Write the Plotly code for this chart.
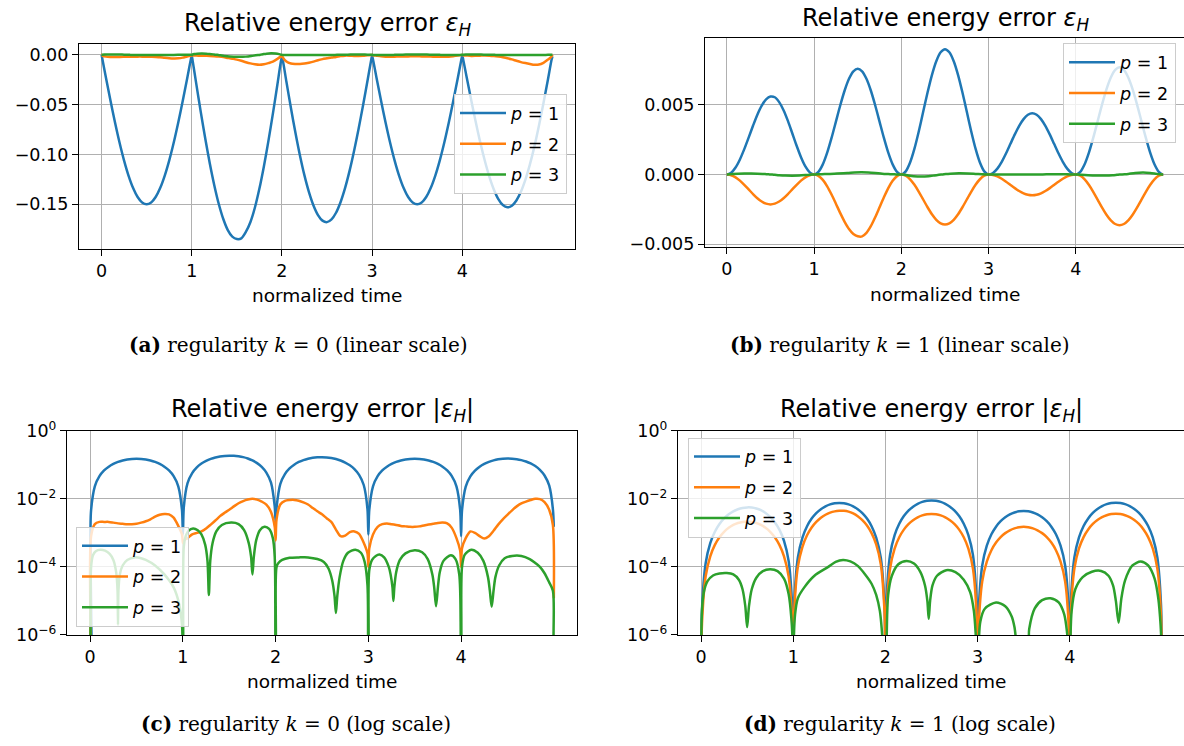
import plotly.graph_objects as go

# ---------------- data ----------------
# regularity k = 0 : time grid shared by p=1 and p=2
time_k0 = [0, 0.003, 0.01, 0.05, 0.1, 0.15, 0.2, 0.25, 0.3, 0.35, 0.4, 0.45, 0.5, 0.55, 0.6, 0.65, 0.7, 0.75, 0.8, 0.85, 0.9, 0.95, 0.99,
           1.0, 1.01, 1.05, 1.1, 1.15, 1.2, 1.25, 1.3, 1.35, 1.4, 1.45, 1.5, 1.55, 1.6, 1.65, 1.7, 1.75, 1.8, 1.85, 1.9, 1.95, 1.99,
           2.0, 2.01, 2.05, 2.1, 2.15, 2.2, 2.25, 2.3, 2.35, 2.4, 2.45, 2.5, 2.55, 2.6, 2.65, 2.7, 2.75, 2.8, 2.85, 2.9, 2.95, 2.99,
           3.0, 3.01, 3.05, 3.1, 3.15, 3.2, 3.25, 3.3, 3.35, 3.4, 3.45, 3.5, 3.55, 3.6, 3.65, 3.7, 3.75, 3.8, 3.85, 3.9, 3.95, 3.99,
           4.0, 4.01, 4.05, 4.1, 4.15, 4.2, 4.25, 4.3, 4.35, 4.4, 4.45, 4.5, 4.55, 4.6, 4.65, 4.7, 4.75, 4.8, 4.85, 4.9, 4.95, 4.99,
           5.0]

err_k0_p1 = [0, -0.0012, -0.0047, -0.0234, -0.0464, -0.0681, -0.0882, -0.1061, -0.1214, -0.1337, -0.1427, -0.1482, -0.1500, -0.1482, -0.1427, -0.1337, -0.1214, -0.1061, -0.0882, -0.0681, -0.0464, -0.0234, -0.0047,
             -0.0009, -0.0058, -0.0289, -0.0572, -0.0840, -0.1088, -0.1308, -0.1497, -0.1648, -0.1759, -0.1825, -0.1849, -0.1842, -0.1778, -0.1680, -0.1535, -0.1345, -0.1120, -0.0866, -0.0590, -0.0298, -0.0060,
             -0.0021, -0.0055, -0.0270, -0.0534, -0.0782, -0.1010, -0.1210, -0.1378, -0.1512, -0.1608, -0.1664, -0.1679, -0.1652, -0.1585, -0.1479, -0.1338, -0.1165, -0.0965, -0.0744, -0.0505, -0.0255, -0.0051,
             -0.0009, -0.0047, -0.0234, -0.0464, -0.0681, -0.0882, -0.1061, -0.1214, -0.1337, -0.1427, -0.1482, -0.1500, -0.1482, -0.1427, -0.1337, -0.1214, -0.1061, -0.0882, -0.0681, -0.0464, -0.0234, -0.0047,
             -0.0008, -0.0046, -0.0230, -0.0458, -0.0676, -0.0880, -0.1063, -0.1222, -0.1351, -0.1448, -0.1508, -0.1530, -0.1515, -0.1462, -0.1375, -0.1253, -0.1100, -0.0919, -0.0712, -0.0486, -0.0247, -0.0050,
             -0.0015]

err_k0_p2 = [0, -5e-7, -0.0008, -0.0018, -0.0021, -0.0021, -0.0021, -0.0020, -0.0019, -0.00185, -0.0018, -0.0018, -0.00185, -0.0020, -0.0022, -0.0025, -0.0030, -0.0034, -0.0036, -0.0035, -0.0028, -0.0016, -0.0009,
             -0.0005, -0.0006, -0.0007, -0.0009, -0.0010, -0.0011, -0.00135, -0.00175, -0.0023, -0.0031, -0.0039, -0.0048, -0.0060, -0.0074, -0.0086, -0.0095, -0.0100, -0.0095, -0.0083, -0.0068, -0.0041, -0.0015,
             -0.0006, -0.0025, -0.0068, -0.0087, -0.0092, -0.0093, -0.0088, -0.0079, -0.0068, -0.0054, -0.0043, -0.0035, -0.0027, -0.0021, -0.00125, -0.0008, -0.00083, -0.00105, -0.0011, -0.00093, -0.00051, -0.00025,
             -0.0001, -0.00035, -0.0009, -0.0015, -0.0018, -0.0019, -0.0018, -0.0017, -0.0016, -0.00155, -0.0015, -0.0015, -0.00155, -0.00165, -0.00175, -0.00185, -0.00195, -0.0020, -0.0019, -0.0014, -0.0007, -0.0003,
             -0.0001, -0.00035, -0.0007, -0.0011, -0.0010, -0.0008, -0.00068, -0.0008, -0.00115, -0.00175, -0.0025, -0.0034, -0.0046, -0.0060, -0.0073, -0.0083, -0.0092, -0.0100, -0.0098, -0.0080, -0.0048, -0.0017,
             -1.2e-5]

time_k0_p3 = [0, 0.003, 0.01, 0.03, 0.06, 0.11, 0.16, 0.21, 0.25, 0.28, 0.295, 0.3, 0.305, 0.32, 0.35, 0.4, 0.48, 0.55, 0.6, 0.7, 0.8, 0.9, 0.96, 0.99, 0.997,
              1.0, 1.003, 1.01, 1.03, 1.06, 1.11, 1.16, 1.2, 1.24, 1.265, 1.28, 1.295, 1.32, 1.36, 1.42, 1.52, 1.6, 1.66, 1.71, 1.735, 1.75, 1.765, 1.79, 1.83, 1.88, 1.93, 1.97, 1.99, 1.997,
              2.0, 2.003, 2.01, 2.03, 2.07, 2.15, 2.25, 2.35, 2.45, 2.52, 2.57, 2.61, 2.635, 2.65, 2.665, 2.69, 2.73, 2.78, 2.86, 2.92, 2.96, 2.99, 2.997,
              3.0, 3.003, 3.01, 3.04, 3.08, 3.12, 3.17, 3.22, 3.24, 3.26, 3.27, 3.28, 3.3, 3.34, 3.4, 3.5, 3.58, 3.64, 3.69, 3.71, 3.73, 3.75, 3.77, 3.81, 3.89, 3.94, 3.98, 3.997,
              4.0, 4.003, 4.01, 4.04, 4.11, 4.18, 4.24, 4.29, 4.31, 4.33, 4.35, 4.37, 4.41, 4.47, 4.55, 4.65, 4.74, 4.8, 4.85, 4.9, 4.95, 4.99, 4.997, 5.0]

err_k0_p3 = [0, 5e-7, 1e-4, 2.2e-4, 2.9e-4, 3.2e-4, 3.0e-4, 2.4e-4, 1.6e-4, 7e-5, 2e-5, 2e-6, -2e-5, -6e-5, -1.1e-4, -1.6e-4, -1.9e-4, -1.8e-4, -1.6e-4, -1.1e-4, -6e-5, -2.5e-5, -8e-6, -2e-6, -5e-7,
             0, 5e-7, 4e-4, 8e-4, 1.15e-3, 1.35e-3, 1.2e-3, 9e-4, 4.5e-4, 1.5e-4, 1.5e-5, -1.5e-4, -5e-4, -1.1e-3, -1.7e-3, -2.0e-3, -1.8e-3, -1.2e-3, -5e-4, -2e-4, -6e-5, 2e-4, 6e-4, 1.2e-3, 1.5e-3, 1.3e-3, 7e-4, 2e-4, 5e-7,
             0, -5e-7, -1.0e-4, -1.3e-4, -1.6e-4, -1.85e-4, -1.9e-4, -1.9e-4, -1.7e-4, -1.4e-4, -9e-5, -4e-5, -1.4e-5, -4.4e-6, 1.4e-5, 5e-5, 1.5e-4, 2.6e-4, 3.2e-4, 2.6e-4, 1.4e-4, 3e-5, 5e-7,
             0, -5e-7, -8e-5, -1.6e-4, -2.1e-4, -2.3e-4, -1.9e-4, -1e-4, -6e-5, -2.5e-5, -1e-5, 2.5e-5, 7e-5, 1.6e-4, 2.5e-4, 3.1e-4, 2.7e-4, 1.7e-4, 6e-5, 2.5e-5, 7e-6, -2.5e-5, -7e-5, -1.5e-4, -2.2e-4, -1.7e-4, -6e-5, -5e-7,
             0, 5e-7, 1e-4, 2.3e-4, 3.2e-4, 2.6e-4, 1.5e-4, 5e-5, 2e-5, 6.7e-6, -2e-5, -5e-5, -1.1e-4, -1.8e-4, -2.1e-4, -2.1e-4, -1.7e-4, -1.3e-4, -1e-4, -6.5e-5, -3.5e-5, -2e-5, -5e-7, 0]

# regularity k = 1 : time grid shared by p=1 and p=2
time_k1 = [0, 0.003, 0.01, 0.05, 0.1, 0.15, 0.2, 0.25, 0.3, 0.35, 0.4, 0.45, 0.5, 0.55, 0.6, 0.65, 0.7, 0.75, 0.8, 0.85, 0.9, 0.95, 0.99, 0.997,
           1.0, 1.003, 1.01, 1.05, 1.1, 1.15, 1.2, 1.25, 1.3, 1.35, 1.4, 1.45, 1.5, 1.55, 1.6, 1.65, 1.7, 1.75, 1.8, 1.85, 1.9, 1.95, 1.99, 1.997,
           2.0, 2.003, 2.01, 2.05, 2.1, 2.15, 2.2, 2.25, 2.3, 2.35, 2.4, 2.45, 2.5, 2.55, 2.6, 2.65, 2.7, 2.75, 2.8, 2.85, 2.9, 2.95, 2.99, 2.997,
           3.0, 3.003, 3.01, 3.05, 3.1, 3.15, 3.2, 3.25, 3.3, 3.35, 3.4, 3.45, 3.5, 3.55, 3.6, 3.65, 3.7, 3.75, 3.8, 3.85, 3.9, 3.95, 3.99, 3.997,
           4.0, 4.003, 4.01, 4.05, 4.1, 4.15, 4.2, 4.25, 4.3, 4.35, 4.4, 4.45, 4.5, 4.55, 4.6, 4.65, 4.7, 4.75, 4.8, 4.85, 4.9, 4.95, 4.99, 4.997,
           5.0]

err_k1_p1 = [0, 5.0e-7, 5.5e-6, 1.28e-4, 5.0e-4, 1.08e-3, 1.82e-3, 2.65e-3, 3.5e-3, 4.3e-3, 4.95e-3, 5.40e-3, 5.6e-3, 5.55e-3, 5.2e-3, 4.62e-3, 3.85e-3, 2.96e-3, 2.06e-3, 1.24e-3, 5.8e-4, 1.5e-4, 6.0e-6, 5.5e-7,
             0, 6.8e-7, 7.5e-6, 1.86e-4, 7.26e-4, 1.566e-3, 2.626e-3, 3.8e-3, 4.974e-3, 6.034e-3, 6.874e-3, 7.414e-3, 7.6e-3, 7.414e-3, 6.874e-3, 6.034e-3, 4.974e-3, 3.8e-3, 2.626e-3, 1.566e-3, 7.26e-4, 1.86e-4, 7.5e-6, 6.8e-7,
             0, 8.0e-7, 8.9e-6, 2.21e-4, 8.6e-4, 1.855e-3, 3.11e-3, 4.5e-3, 5.89e-3, 7.145e-3, 8.14e-3, 8.78e-3, 9.0e-3, 8.78e-3, 8.14e-3, 7.145e-3, 5.89e-3, 4.5e-3, 3.11e-3, 1.855e-3, 8.6e-4, 2.21e-4, 8.9e-6, 8.0e-7,
             0, 3.9e-7, 4.3e-6, 1.08e-4, 4.2e-4, 9.07e-4, 1.52e-3, 2.2e-3, 2.88e-3, 3.493e-3, 3.98e-3, 4.292e-3, 4.4e-3, 4.292e-3, 3.98e-3, 3.493e-3, 2.88e-3, 2.2e-3, 1.52e-3, 9.07e-4, 4.2e-4, 1.08e-4, 4.3e-6, 3.9e-7,
             0, 6.9e-7, 7.6e-6, 1.89e-4, 7.35e-4, 1.587e-3, 2.66e-3, 3.85e-3, 5.04e-3, 6.113e-3, 6.965e-3, 7.511e-3, 7.7e-3, 7.511e-3, 6.965e-3, 6.113e-3, 5.04e-3, 3.85e-3, 2.66e-3, 1.587e-3, 7.35e-4, 1.89e-4, 7.6e-6, 6.9e-7,
             0]

err_k1_p2 = [0, -1.9e-7, -2.1e-6, -5.3e-5, -2.05e-4, -4.43e-4, -7.43e-4, -1.075e-3, -1.407e-3, -1.707e-3, -1.945e-3, -2.097e-3, -2.15e-3, -2.097e-3, -1.945e-3, -1.707e-3, -1.407e-3, -1.075e-3, -7.43e-4, -4.43e-4, -2.05e-4, -5.3e-5, -2.1e-6, -1.9e-7,
             0, -4e-7, -4.4e-6, -1.0e-4, -3.9e-4, -8.5e-4, -1.44e-3, -2.1e-3, -2.78e-3, -3.4e-3, -3.92e-3, -4.28e-3, -4.44e-3, -4.45e-3, -4.2e-3, -3.72e-3, -3.08e-3, -2.36e-3, -1.64e-3, -9.8e-4, -4.6e-4, -1.2e-4, -4.8e-6, -4.3e-7,
             0, -3.2e-7, -3.55e-6, -8.8e-5, -3.44e-4, -7.42e-4, -1.244e-3, -1.8e-3, -2.356e-3, -2.858e-3, -3.256e-3, -3.512e-3, -3.6e-3, -3.512e-3, -3.256e-3, -2.858e-3, -2.356e-3, -1.8e-3, -1.244e-3, -7.42e-4, -3.44e-4, -8.8e-5, -3.55e-6, -3.2e-7,
             0, -1.3e-7, -1.5e-6, -3.7e-5, -1.43e-4, -3.09e-4, -5.18e-4, -7.5e-4, -9.82e-4, -1.191e-3, -1.357e-3, -1.463e-3, -1.5e-3, -1.463e-3, -1.357e-3, -1.191e-3, -9.82e-4, -7.5e-4, -5.18e-4, -3.09e-4, -1.43e-4, -3.7e-5, -1.5e-6, -1.3e-7,
             0, -3.2e-7, -3.6e-6, -8.9e-5, -3.49e-4, -7.52e-4, -1.261e-3, -1.825e-3, -2.389e-3, -2.898e-3, -3.301e-3, -3.561e-3, -3.65e-3, -3.561e-3, -3.301e-3, -2.898e-3, -2.389e-3, -1.825e-3, -1.261e-3, -7.52e-4, -3.49e-4, -8.9e-5, -3.6e-6, -3.2e-7,
             0]

time_k1_p3 = [0, 0.003, 0.01, 0.03, 0.07, 0.13, 0.2, 0.28, 0.35, 0.41, 0.45, 0.48, 0.5, 0.52, 0.55, 0.6, 0.67, 0.75, 0.83, 0.9, 0.95, 0.98, 0.997,
              1.0, 1.003, 1.02, 1.05, 1.12, 1.23, 1.38, 1.46, 1.54, 1.62, 1.7, 1.78, 1.85, 1.9, 1.94, 1.96, 1.975,
              2.0, 2.012, 2.03, 2.07, 2.14, 2.23, 2.31, 2.38, 2.43, 2.455, 2.47, 2.485, 2.51, 2.56, 2.66, 2.76, 2.85, 2.92, 2.96, 2.98, 2.99,
              3.0, 3.01, 3.03, 3.08, 3.2, 3.3, 3.37, 3.4, 3.415, 3.43,
              3.54, 3.56, 3.62, 3.7, 3.79, 3.88, 3.94, 3.97, 3.985,
              4.0, 4.005, 4.02, 4.06, 4.14, 4.24, 4.34, 4.42, 4.47, 4.5, 4.53, 4.56, 4.6, 4.68, 4.77, 4.85, 4.92, 4.96, 4.985, 4.997, 5.0]

err_k1_p3 = [0, 5e-7, 5e-6, 1.8e-5, 3.8e-5, 5.6e-5, 6.4e-5, 6.6e-5, 6e-5, 4.2e-5, 2.2e-5, 7e-6, 1.7e-6, -7e-6, -2.2e-5, -4.8e-5, -7.5e-5, -8.5e-5, -7.5e-5, -4.5e-5, -1.6e-5, -3e-6, -3e-7,
             0, 3e-7, 4e-6, 1.2e-5, 2.5e-5, 5.5e-5, 1.0e-4, 1.4e-4, 1.6e-4, 1.45e-4, 1.07e-4, 6e-5, 3.2e-5, 1.5e-5, 5e-6, 1.5e-6, 3e-7,
             0, -3e-7, -1.5e-5, -5.5e-5, -1.2e-4, -1.5e-4, -1.25e-4, -7e-5, -2.8e-5, -1e-5, -3e-6, 1e-5, 2.8e-5, 5.5e-5, 8e-5, 7e-5, 4.2e-5, 1.8e-5, 5e-6, 1e-6, 3e-7,
             0, -3e-7, -2.5e-6, -6e-6, -9e-6, -7e-6, -3.5e-6, -1.7e-6, -8e-7, -3e-7,
             3e-7, 1.5e-6, 6e-6, 1.05e-5, 1.2e-5, 9e-6, 4e-6, 1.2e-6, 3e-7,
             0, -3e-7, -5e-6, -2.2e-5, -5e-5, -7.2e-5, -7.6e-5, -5.5e-5, -2.8e-5, -1e-5, -2.3e-6, 1.2e-5, 4e-5, 1.1e-4, 1.44e-4, 1.1e-4, 4.5e-5, 1.2e-5, 2e-6, 3e-7, 0]

series_names = ["<i>p</i> = 1", "<i>p</i> = 2", "<i>p</i> = 3"]
series_colors = ["#1f77b4", "#ff7f0e", "#2ca02c"]
x_tick_values = [0, 1, 2, 3, 4]
lin_a_ticks = [0.0, -0.05, -0.10, -0.15]
lin_a_text = ["0.00", "\u22120.05", "\u22120.10", "\u22120.15"]
lin_b_ticks = [0.005, 0.0, -0.005]
lin_b_text = ["0.005", "0.000", "\u22120.005"]
log_ticks = [1, 1e-2, 1e-4, 1e-6]
log_text = ["10<sup>0</sup>", "10<sup>\u22122</sup>", "10<sup>\u22124</sup>", "10<sup>\u22126</sup>"]

title_lin = "Relative energy error <i>\u03b5</i><sub><i>H</i></sub>"
title_log = "Relative energy error |<i>\u03b5</i><sub><i>H</i></sub>|"
captions = ["<b>(a)</b> regularity <i>k</i> = 0 (linear scale)",
            "<b>(b)</b> regularity <i>k</i> = 1 (linear scale)",
            "<b>(c)</b> regularity <i>k</i> = 0 (log scale)",
            "<b>(d)</b> regularity <i>k</i> = 1 (log scale)"]

# ---------------- layout helpers ----------------
W, H = 1184, 746
SANS = "DejaVu Sans"
SERIF = "DejaVu Serif"
TICK_SIZE = 17.5
LABEL_SIZE = 18.5
TITLE_SIZE = 24


def px(x):
    return x / W


def py(y):
    # target pixel row -> paper fraction (corrects the small vertical squeeze seen in the photographed page)
    d = (y - 10.5) / 0.9745
    return 1 - d / H


fig = go.Figure()

panels = [
    dict(s="", leg="legend", k=0, log=False, xd=(79, 575), yd=(43, 248), mirror_y=True, right=575),
    dict(s="2", leg="legend2", k=1, log=False, xd=(705, 1184), yd=(37, 246), mirror_y=False, right=1185),
    dict(s="3", leg="legend3", k=0, log=True, xd=(67, 577), yd=(431, 636), mirror_y=True, right=577),
    dict(s="4", leg="legend4", k=1, log=True, xd=(678, 1184), yd=(431, 636), mirror_y=False, right=1185),
]

for i, P in enumerate(panels):
    if P["k"] == 0:
        xs = [time_k0, time_k0, time_k0_p3]
        ys = [err_k0_p1, err_k0_p2, err_k0_p3]
    else:
        xs = [time_k1, time_k1, time_k1_p3]
        ys = [err_k1_p1, err_k1_p2, err_k1_p3]
    for j in range(3):
        yv = [abs(v) for v in ys[j]] if P["log"] else ys[j]
        fig.add_trace(go.Scatter(
            x=xs[j], y=yv, mode="lines", name=series_names[j],
            line=dict(color=series_colors[j], width=2.5, shape="spline", smoothing=0.8),
            xaxis="x" + P["s"], yaxis="y" + P["s"],
            legend=P["leg"], legendgroup=P["leg"] + str(j),
            hoverinfo="skip"))

axis_common = dict(showgrid=True, gridcolor="#b0b0b0", gridwidth=1.3,
                   showline=True, linecolor="black", linewidth=1.3,
                   ticks="outside", ticklen=6, tickwidth=1.3, tickcolor="black",
                   zeroline=False, tickfont=dict(family=SANS, size=TICK_SIZE, color="black"))

layout = dict(width=W, height=H, margin=dict(l=0, r=0, t=0, b=0, pad=0), autosize=False,
              paper_bgcolor="white", plot_bgcolor="white", showlegend=True, hovermode=False)

for i, P in enumerate(panels):
    s = P["s"]
    x0, x1 = P["xd"]
    xd = [px(x0), min(1.0, px(x1))]
    yd = [py(P["yd"][1]), py(P["yd"][0])]
    unit = (P["right"] - x0) / 5.5          # pixels per time unit of the full axes box
    xa = dict(axis_common, domain=xd, anchor="y" + s, range=[-0.25, -0.25 + (x1 - x0) / unit],
              tickmode="array", tickvals=x_tick_values, mirror=True)
    ya = dict(axis_common, domain=yd, anchor="x" + s, mirror=P["mirror_y"])
    if P["log"]:
        ya.update(type="log", range=[-6, 0], tickmode="array", tickvals=log_ticks, ticktext=log_text)
    elif P["k"] == 0:
        ya.update(range=[-0.1944, 0.0105], tickmode="array", tickvals=lin_a_ticks, ticktext=lin_a_text)
    else:
        ya.update(range=[-0.00518, 0.00978], tickmode="array", tickvals=lin_b_ticks, ticktext=lin_b_text)
    layout["xaxis" + s] = xa
    layout["yaxis" + s] = ya

leg_common = dict(bgcolor="rgba(255,255,255,0.8)", bordercolor="#cccccc", borderwidth=1,
                  font=dict(family=SANS, size=TICK_SIZE, color="black"), traceorder="grouped",
                  tracegroupgap=5, itemwidth=46, itemclick=False, itemdoubleclick=False)
layout["legend"] = dict(leg_common, x=px(567), xanchor="right", y=py(93), yanchor="top")
layout["legend2"] = dict(leg_common, x=px(1176), xanchor="right", y=py(42), yanchor="top")
layout["legend3"] = dict(leg_common, x=px(76), xanchor="left", y=py(628), yanchor="bottom")
layout["legend4"] = dict(leg_common, x=px(688), xanchor="left", y=py(438), yanchor="top")

ann = []
title_pos = [(327, 23), (945, 18), (322, 411), (931, 411)]
xlabel_pos = [(327, 295), (945, 294), (322, 683), (931, 683)]
caption_pos = [(298, 345), (900, 345), (296, 725), (900, 725)]
for i in range(4):
    tx, ty = title_pos[i]
    ann.append(dict(text=title_lin if i < 2 else title_log, x=px(tx), y=py(ty), xref="paper", yref="paper",
                    showarrow=False, xanchor="center", yanchor="middle",
                    font=dict(family=SANS, size=TITLE_SIZE, color="black")))
    lx, ly = xlabel_pos[i]
    ann.append(dict(text="normalized time", x=px(lx), y=py(ly), xref="paper", yref="paper",
                    showarrow=False, xanchor="center", yanchor="middle",
                    font=dict(family=SANS, size=LABEL_SIZE, color="black")))
    cx, cy = caption_pos[i]
    ann.append(dict(text=captions[i], x=px(cx), y=py(cy), xref="paper", yref="paper",
                    showarrow=False, xanchor="center", yanchor="middle",
                    font=dict(family=SERIF, size=20, color="black")))
layout["annotations"] = ann

fig.update_layout(layout)

page_fix = (
    "document.documentElement.style.margin='0px';"
    "document.body.style.margin='0px';"
    "document.body.style.padding='0px';"
    "document.body.style.overflow='hidden';"
)
fig.write_html("out.html", config={"displayModeBar": False}, post_script=page_fix)
